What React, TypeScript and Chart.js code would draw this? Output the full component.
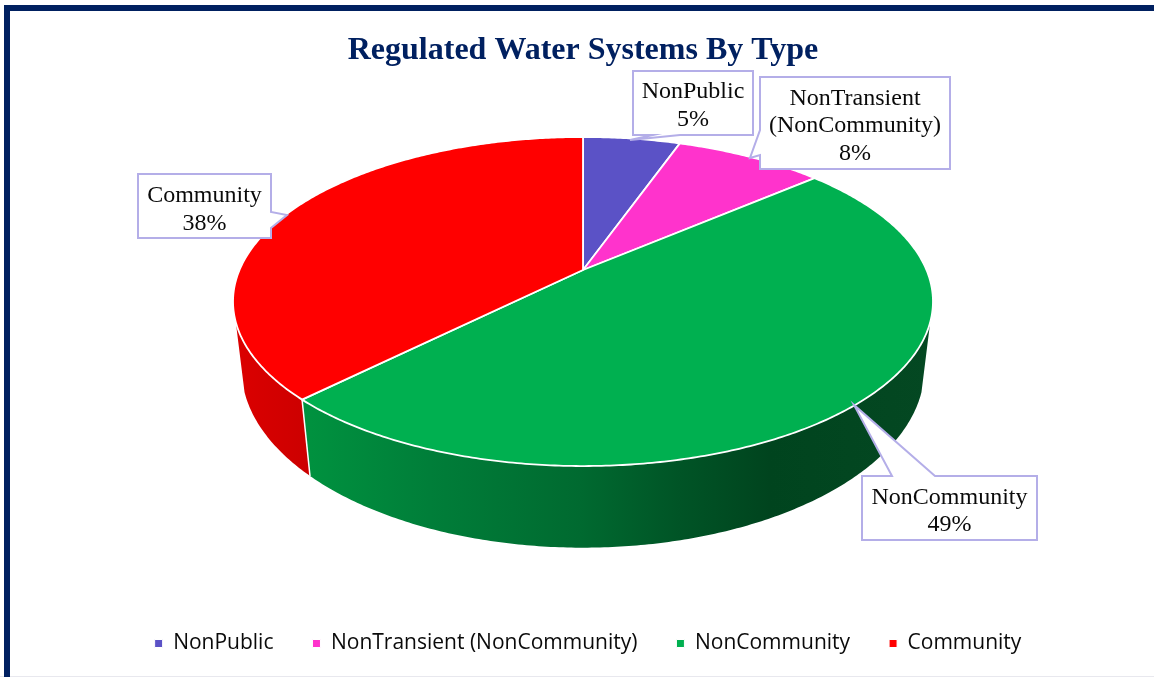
import React, { useEffect, useRef } from "react";
import { Chart, registerables } from "chart.js";

Chart.register(...registerables);

const chartTitle = "Regulated Water Systems By Type";
const categories = ["NonPublic", "NonTransient (NonCommunity)", "NonCommunity", "Community"];
const shares = [5.4, 8.3, 48.8, 37.5];
const sliceColors = ["#5B52C6", "#FF33CC", "#00B050", "#FF0000"];
const calloutLines = [["NonPublic"], ["NonTransient", "(NonCommunity)"], ["NonCommunity"], ["Community"]];

// layout of the callout boxes: x, y, w, h, the side the pointer leaves from, and the pointer (clockwise)
const calloutLayout = [
  { x: 633, y: 71, w: 120, h: 64, side: "bottom", dy: 1.5, ptr: [[680, 135], [630, 140], [653, 135]] },
  { x: 760, y: 77, w: 190, h: 92, side: "left", dy: 2, ptr: [[760, 155], [750, 158], [760, 130]] },
  { x: 862, y: 476, w: 175, h: 64, side: "top", dy: 2, ptr: [[892, 476], [854, 405], [935, 476]] },
  { x: 138, y: 174, w: 133, h: 64, side: "right", dy: 2.5, ptr: [[271, 212], [287, 215], [271, 228]] },
];

// perspective projection of the tilted disc
const AX = 583, AY = 270, RX = 343.5, RY = 158.5, K = 0.1915;
const VY = 3100, WALL = 66;
const project = (th: number, bottom = false): [number, number] => {
  const u = Math.sin(th), v = -Math.cos(th), w = 1 - K * v;
  const x = AX + (RX * u) / w, y = AY + (RY * v) / w;
  if (!bottom) return [x, y];
  const dy = WALL / w;
  return [x + ((AX - x) * dy) / (VY - y), y + dy];
};
const trace = (ctx: CanvasRenderingContext2D, a: number, b: number, bottom = false, first = false) => {
  const n = Math.max(2, Math.ceil(Math.abs(b - a) / 0.01));
  for (let i = 0; i <= n; i++) {
    const [x, y] = project(a + ((b - a) * i) / n, bottom);
    if (first && i === 0) ctx.moveTo(x, y); else ctx.lineTo(x, y);
  }
};

const RIGHT_EDGE = (108 * Math.PI) / 180, LEFT_EDGE = (252 * Math.PI) / 180;

const pie3d = {
  id: "pie3d",
  afterLayout(chart: any) {
    chart.legend.left += 5;
    chart.legend.right += 5;
    chart.legend.top -= 13;
    chart.legend.bottom -= 13;
  },
  beforeDatasetDraw(chart: any) {
    const ctx: CanvasRenderingContext2D = chart.ctx;
    const arcs = chart.getDatasetMeta(0).data;
    const range = arcs.map((el: any) => [el.startAngle + Math.PI / 2, el.endAngle + Math.PI / 2]);
    ctx.save();
    const wallFill = (i: number) => {
      if (i === 3) {
        const g = ctx.createLinearGradient(233, 0, 310, 0);
        g.addColorStop(0, "#DC0000");
        g.addColorStop(1, "#CC0000");
        return g;
      }
      const g = ctx.createLinearGradient(305, 0, 930, 0);
      g.addColorStop(0, "#00923F");
      g.addColorStop(0.2, "#007E39");
      g.addColorStop(0.44, "#006A30");
      g.addColorStop(0.6, "#005426");
      g.addColorStop(0.744, "#00441E");
      g.addColorStop(1, "#044822");
      return g;
    };
    range.forEach(([a, b]: number[], i: number) => {
      const s = Math.max(a, RIGHT_EDGE), e = Math.min(b, LEFT_EDGE);
      if (e <= s) return;
      ctx.beginPath();
      trace(ctx, s, e, false, true);
      trace(ctx, e, s, true);
      ctx.closePath();
      ctx.fillStyle = wallFill(i);
      ctx.fill();
    });
    // white seam on the wall between the two front slices
    const seam = range[3][0];
    const p = project(seam), q = project(seam, true);
    ctx.beginPath();
    ctx.moveTo(p[0], p[1]);
    ctx.lineTo(q[0], q[1]);
    ctx.strokeStyle = "#FFFFFF";
    ctx.lineWidth = 1.5;
    ctx.stroke();
    // top faces
    range.forEach(([a, b]: number[], i: number) => {
      ctx.beginPath();
      ctx.moveTo(AX, AY);
      trace(ctx, a, b);
      ctx.closePath();
      ctx.fillStyle = sliceColors[i];
      ctx.fill();
      ctx.strokeStyle = "#FFFFFF";
      ctx.lineWidth = 1.8;
      ctx.lineJoin = "round";
      ctx.stroke();
    });
    ctx.restore();
    return false;
  },
  afterDatasetsDraw(chart: any) {
    const ctx: CanvasRenderingContext2D = chart.ctx;
    ctx.save();
    calloutLayout.forEach((c, i) => {
      const x2 = c.x + c.w, y2 = c.y + c.h;
      const path: number[][] = [[c.x, c.y]];
      if (c.side === "top") path.push(...c.ptr);
      path.push([x2, c.y]);
      if (c.side === "right") path.push(...c.ptr);
      path.push([x2, y2]);
      if (c.side === "bottom") path.push(...c.ptr);
      path.push([c.x, y2]);
      if (c.side === "left") path.push(...c.ptr);
      ctx.beginPath();
      path.forEach(([px, py], k) => (k === 0 ? ctx.moveTo(px, py) : ctx.lineTo(px, py)));
      ctx.closePath();
      ctx.fillStyle = "#FFFFFF";
      ctx.fill();
      ctx.strokeStyle = "#B4AEE8";
      ctx.lineWidth = 2;
      ctx.lineJoin = "miter";
      ctx.stroke();
      const lines = [...calloutLines[i], Math.round(shares[i]) + "%"];
      ctx.fillStyle = "#0A0A0A";
      ctx.font = '24px "Liberation Serif"';
      ctx.textAlign = "center";
      ctx.textBaseline = "middle";
      const lh = 27.5;
      const cy = c.y + c.h / 2 + 1 + c.dy;
      lines.forEach((t, k) => ctx.fillText(t, c.x + c.w / 2, cy + (k - (lines.length - 1) / 2) * lh));
    });
    ctx.restore();
  },
};

export default function App() {
  const ref = useRef<HTMLCanvasElement>(null);
  useEffect(() => {
    const chart = new Chart(ref.current as HTMLCanvasElement, {
      type: "pie",
      data: {
        labels: categories,
        datasets: [{ data: shares, backgroundColor: sliceColors, borderColor: "#FFFFFF", borderWidth: 1 }],
      },
      options: {
        responsive: false,
        animation: false,
        layout: { padding: { left: 12 } },
        plugins: {
          tooltip: { enabled: false },
          title: {
            display: true,
            text: chartTitle,
            color: "#002060",
            font: { family: '"Liberation Serif"', size: 32, weight: "bold" },
            padding: { top: 32, bottom: 10 },
          },
          legend: {
            display: true,
            position: "bottom",
            labels: {
              boxWidth: 8,
              boxHeight: 8,
              padding: 39,
              color: "#0A0A0A",
              font: { family: '"Open Sans"', size: 21 },
            },
          },
        },
      } as any,
      plugins: [pie3d as any],
    });
    return () => chart.destroy();
  }, []);
  return (
    <div style={{ position: "fixed", left: 0, top: 0, width: 1154, height: 677, background: "#FFFFFF", overflow: "hidden" }}>
      <div style={{ position: "absolute", left: 0, top: 676, width: 1154, height: 1, background: "#E8E8EE" }} />
      <div style={{ position: "absolute", left: 4, top: 5, width: 1150, height: 6, background: "#002060" }} />
      <div style={{ position: "absolute", left: 4, top: 5, width: 6, height: 672, background: "#002060" }} />
      <canvas ref={ref} width={1154} height={677} style={{ position: "absolute", left: 0, top: 0, display: "block" }} />
    </div>
  );
}
